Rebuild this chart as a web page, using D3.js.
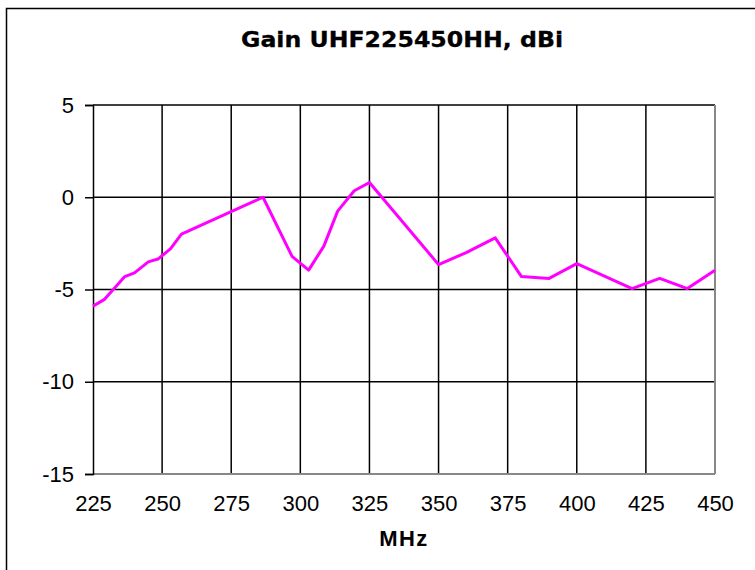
<!DOCTYPE html>
<html>
<head>
<meta charset="utf-8">
<script src="https://cdn.jsdelivr.net/npm/d3@7"></script>
<style>
  body { margin: 0; background: #fff; }
  svg { display: block; }
</style>
</head>
<body>
<svg id="chart"></svg>
<script>
var freqs = [225, 229, 232, 236.5, 240, 245, 248.5, 253, 257, 286.5, 297, 303, 308.5, 313.5, 319.5, 325, 350, 360, 370.5, 380, 390, 400, 420, 430, 440, 450];
var gains = [-5.9, -5.55, -5.05, -4.3, -4.1, -3.5, -3.35, -2.8, -2.0, 0.0, -3.2, -3.95, -2.65, -0.75, 0.35, 0.8, -3.65, -3.0, -2.2, -4.3, -4.4, -3.6, -4.95, -4.4, -4.95, -3.95];
var xTicks = [225, 250, 275, 300, 325, 350, 375, 400, 425, 450];
var yTicks = [5, 0, -5, -10, -15];

var width = 755, height = 570;
var margin = {left: 93, right: 40, top: 105, bottom: 96};

var svg = d3.select('#chart')
    .attr('width', width)
    .attr('height', height)

// outer frame
svg.append('rect')
    .attr('x', 6.5)
    .attr('y', 8.5)
    .attr('width', 800)
    .attr('height', 600)
    .attr('fill', 'none')
    .attr('stroke', '#000')
    .attr('stroke-width', 1.5)

var xScale = d3.scaleLinear()
    .domain([225, 450])
    .range([margin.left, width - margin.right])
var yScale = d3.scaleLinear()
    .domain([-15, 5])
    .range([height - margin.bottom, margin.top])

// grid
svg.append('g').selectAll('line')
    .data(xTicks.slice(1, -1))
    .enter()
    .append('line')
    .attr('x1', function (d) { return xScale(d) })
    .attr('x2', function (d) { return xScale(d) })
    .attr('y1', yScale(5))
    .attr('y2', yScale(-15))
    .attr('stroke', '#000')
    .attr('stroke-width', 1.5)

svg.append('g').selectAll('line')
    .data(yTicks.slice(0, -1))
    .enter()
    .append('line')
    .attr('x1', xScale(225))
    .attr('x2', xScale(450))
    .attr('y1', function (d) { return yScale(d) })
    .attr('y2', function (d) { return yScale(d) })
    .attr('stroke', '#000')
    .attr('stroke-width', 1.5)

// right and bottom frame of plot area
svg.append('line')
    .attr('x1', xScale(450)).attr('x2', xScale(450))
    .attr('y1', yScale(5)).attr('y2', yScale(-15))
    .attr('stroke', '#888').attr('stroke-width', 2)
svg.append('line')
    .attr('x1', xScale(225)).attr('x2', xScale(450))
    .attr('y1', yScale(-15)).attr('y2', yScale(-15))
    .attr('stroke', '#888').attr('stroke-width', 2)

// y axis
var yAxis = d3.axisLeft(yScale)
    .tickValues(yTicks)
    .tickFormat(String)
    .tickSize(8)
    .tickPadding(11)
var yG = svg.append('g')
    .attr('transform', 'translate(' + margin.left + ',0)')
    .call(yAxis)
yG.attr('font-family', 'Liberation Sans, Arial, sans-serif').attr('font-size', 22)
yG.select('.domain').attr('stroke', '#000').attr('stroke-width', 1.5)
yG.selectAll('.tick line').attr('stroke', '#000').attr('stroke-width', 1.5)
yG.selectAll('text').attr('fill', '#000')

// x axis labels
var xAxis = d3.axisBottom(xScale)
    .tickValues(xTicks)
    .tickSize(0)
    .tickPadding(21)
var xG = svg.append('g')
    .attr('transform', 'translate(0,' + yScale(-15) + ')')
    .call(xAxis)
xG.attr('font-family', 'Liberation Sans, Arial, sans-serif').attr('font-size', 22)
xG.select('.domain').remove()
xG.selectAll('text').attr('fill', '#000')

// line
var line = d3.line()
    .x(function (d, i) { return xScale(freqs[i]) })
    .y(function (d) { return yScale(d) })
svg.append('path')
    .datum(gains)
    .attr('d', line)
    .attr('fill', 'none')
    .attr('stroke', '#ff00ff')
    .attr('stroke-width', 3)
    .attr('stroke-linejoin', 'round')

// title
svg.append('text')
    .attr('x', 402)
    .attr('y', 47)
    .attr('text-anchor', 'middle')
    .attr('font-family', 'DejaVu Sans, sans-serif')
    .attr('font-weight', 'bold')
    .attr('font-size', 21)
    .attr('textLength', 322)
    .attr('lengthAdjust', 'spacingAndGlyphs')
    .attr('fill', '#000')
    .attr('stroke', '#000')
    .attr('stroke-width', 0.3)
    .text('Gain UHF225450HH, dBi')

svg.append('text')
    .attr('x', 404)
    .attr('y', 546)
    .attr('text-anchor', 'middle')
    .attr('font-family', 'Liberation Sans, Arial, sans-serif')
    .attr('font-weight', 'bold')
    .attr('font-size', 22)
    .attr('letter-spacing', 1.5)
    .attr('fill', '#000')
    .text('MHz')
</script>
</body>
</html>
